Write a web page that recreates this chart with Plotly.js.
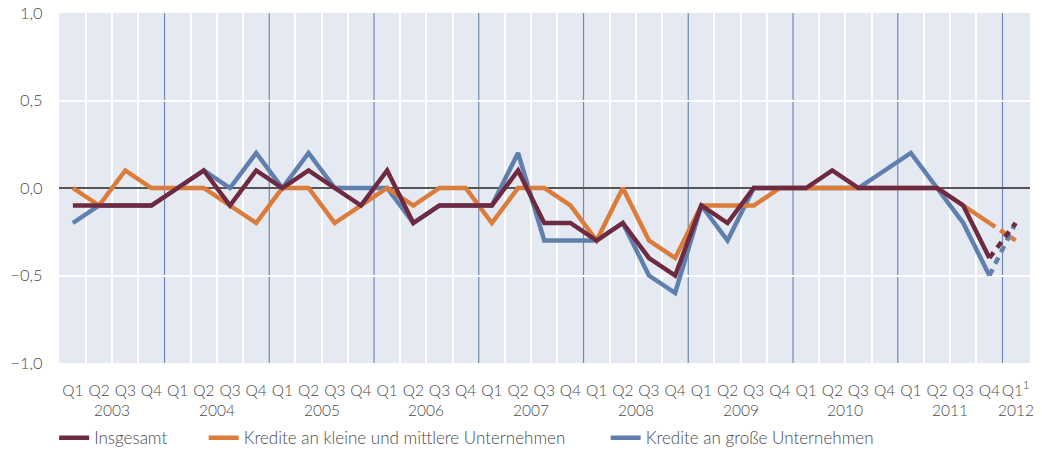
<!DOCTYPE html>
<html>
<head>
<meta charset="utf-8">
<script src="https://cdn.plot.ly/plotly-3.0.1.min.js"></script>
<style>
  html, body { margin: 0; padding: 0; background: #ffffff; }
  #chart { width: 1042px; height: 468px; }
</style>
</head>
<body>
<div id="chart"></div>
<script>
// ---- Data ----
const years = ['2003','2004','2005','2006','2007','2008','2009','2010','2011','2012'];
const quarterLabels = ['Q1','Q2','Q3','Q4'];
const lastQuarterLabel = 'Q1<sup>1</sup>';

const seriesNames = ['Insgesamt', 'Kredite an kleine und mittlere Unternehmen', 'Kredite an große Unternehmen'];

const insgesamt = [-0.1,-0.1,-0.1,-0.1, 0.0,0.1,-0.1,0.1, 0.0,0.1,0.0,-0.1, 0.1,-0.2,-0.1,-0.1,
                   -0.1,0.1,-0.2,-0.2, -0.3,-0.2,-0.4,-0.5, -0.1,-0.2,0.0,0.0, 0.0,0.1,0.0,0.0,
                   0.0,0.0,-0.1,-0.4, -0.2];
const kmu = [0.0,-0.1,0.1,0.0, 0.0,0.0,-0.1,-0.2, 0.0,0.0,-0.2,-0.1, 0.0,-0.1,0.0,0.0,
             -0.2,0.0,0.0,-0.1, -0.3,0.0,-0.3,-0.4, -0.1,-0.1,-0.1,0.0, 0.0,0.0,0.0,0.0,
             0.0,0.0,-0.1,-0.2, -0.3];
const gross = [-0.2,-0.1,-0.1,-0.1, 0.0,0.1,0.0,0.2, 0.0,0.2,0.0,0.0, 0.0,-0.2,-0.1,-0.1,
               -0.1,0.2,-0.3,-0.3, -0.3,-0.2,-0.5,-0.6, -0.1,-0.3,0.0,0.0, 0.0,0.0,0.0,0.1,
               0.2,0.0,-0.2,-0.5, -0.2];

// ---- Derived ----
const nQ = insgesamt.length;
const xIdx = Array.from({length: nQ}, (_, i) => i);
const tickText = xIdx.map(i => i === nQ - 1 ? lastQuarterLabel : quarterLabels[i % 4]);
const lastSolid = nQ - 2;

const colors = { ins: '#6e2a41', kmu: '#dc7c3a', gross: '#5f80ae' };
const lw = 4.5;
const textColor = '#4a4a4a';
const fam = 'Lato, sans-serif';

function solid(y, name, color, legend) {
  return { x: xIdx.slice(0, lastSolid + 1), y: y.slice(0, lastSolid + 1), name: name, type: 'scatter', mode: 'lines',
           line: { color: color, width: lw }, legend: legend, hoverinfo: 'skip' };
}
function dashed(y, color) {
  return { x: xIdx.slice(lastSolid), y: y.slice(lastSolid), type: 'scatter', mode: 'lines', showlegend: false,
           line: { color: color, width: lw, dash: '7px,6px' }, hoverinfo: 'skip' };
}

const traces = [
  solid(gross, seriesNames[2], colors.gross, 'legend3'),
  solid(kmu, seriesNames[1], colors.kmu, 'legend2'),
  solid(insgesamt, seriesNames[0], colors.ins, 'legend'),
  dashed(gross, colors.gross),
  dashed(kmu, colors.kmu),
  dashed(insgesamt, colors.ins),
  { x: [0], y: [0], xaxis: 'x2', type: 'scatter', mode: 'markers', marker: {opacity: 0}, showlegend: false, hoverinfo: 'skip' }
];

// gridlines between quarters (not on year boundaries)
const gridVals = [];
for (let i = 0; i < nQ - 1; i++) { if (i % 4 !== 3) gridVals.push(i + 0.5); }

// year boundary lines
const shapes = [];
for (let i = 3; i < nQ - 1; i += 4) {
  shapes.push({ type: 'line', xref: 'x', yref: 'paper', x0: i + 0.5, x1: i + 0.5, y0: 0, y1: 1,
                line: { color: '#7089b3', width: 1.2 }, layer: 'below' });
}

// year labels
const annotations = years.map((yr, k) => ({
  text: yr, xref: 'x', yref: 'paper', x: (k < years.length - 1) ? 4 * k + 1.5 : nQ - 1, y: -0.135,
  xanchor: 'center', yanchor: 'middle', showarrow: false,
  font: { family: fam, size: 15.5, color: textColor, weight: 300 }
}));

const xr = [-0.53, 36.55];
const legendFont = { family: fam, size: 17, color: textColor, weight: 300 };
const layout = {
  width: 1042, height: 468,
  margin: { l: 59, r: 12, t: 13, b: 93 },
  paper_bgcolor: '#ffffff',
  plot_bgcolor: '#e5e9f1',
  separators: ',.',
  showlegend: true,
  xaxis: {
    range: xr, tickvals: xIdx, ticktext: tickText, showgrid: false, zeroline: false,
    tickangle: 0,
    ticks: 'outside', ticklen: 13, tickcolor: 'rgba(0,0,0,0)',
    tickfont: { family: fam, size: 15.5, color: textColor, weight: 300 }, fixedrange: true
  },
  xaxis2: {
    overlaying: 'x', range: xr, tickvals: gridVals, showticklabels: false, showgrid: true,
    gridcolor: '#ffffff', gridwidth: 2, zeroline: false, layer: 'below traces'
  },
  yaxis: {
    range: [-1, 1], tickvals: [-1, -0.5, 0, 0.5, 1], tickformat: '.1f',
    showgrid: true, gridcolor: '#ffffff', gridwidth: 2,
    zeroline: true, zerolinecolor: '#555555', zerolinewidth: 1.5,
    ticks: 'outside', ticklen: 12, tickcolor: 'rgba(0,0,0,0)',
    tickfont: { family: fam, size: 16.5, color: textColor, weight: 300 }, fixedrange: true
  },
  legend:  { orientation: 'h', x: -0.005, xanchor: 'left', y: -0.215, yanchor: 'middle', font: legendFont, bgcolor: 'rgba(0,0,0,0)' },
  legend2: { orientation: 'h', x: 0.149, xanchor: 'left', y: -0.215, yanchor: 'middle', font: legendFont, bgcolor: 'rgba(0,0,0,0)' },
  legend3: { orientation: 'h', x: 0.563, xanchor: 'left', y: -0.215, yanchor: 'middle', font: legendFont, bgcolor: 'rgba(0,0,0,0)' },
  shapes: shapes,
  annotations: annotations
};

Plotly.newPlot('chart', traces, layout, { displayModeBar: false, staticPlot: true });
</script>
</body>
</html>
